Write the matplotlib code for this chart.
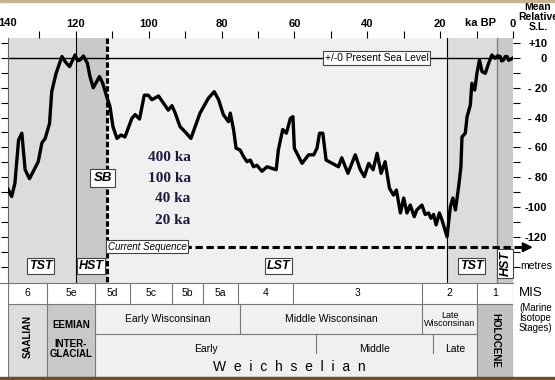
import matplotlib
matplotlib.use('Agg')
import matplotlib.pyplot as plt
from matplotlib.patches import Rectangle

plt.rcParams['font.family'] = ['Liberation Sans', 'DejaVu Sans']

# sea level curve, ka BP vs metres relative to present
age_ka = [138.6, 137.6, 136.7, 135.7, 134.8, 133.9, 132.7, 130.3, 129.3, 128.4,
          127.2, 126.6, 125.4, 123.8, 122.9, 121.7, 120.2, 119.5, 118.8, 117.9,
          116.8, 116.1, 115.2, 113.5, 112.6, 111.5, 110.6, 109.8, 108.7, 107.6,
          106.5, 104.6, 103.7, 102.5, 101.2, 100.1, 99.1, 97.3, 95.9, 94.6,
          93.6, 92.7, 91.4, 90.0, 88.4, 85.9, 83.6, 82.0, 80.8, 79.5,
          78.1, 77.6, 76.7, 76.0, 74.9, 74.0, 73.0, 72.1, 71.2, 70.3,
          68.9, 67.5, 66.2, 65.0, 64.4, 63.2, 62.2, 61.1, 60.4, 60.0,
          57.9, 56.1, 54.7, 53.8, 53.1, 52.2, 51.3, 47.9, 47.0, 45.3,
          43.3, 41.9, 40.8, 39.6, 38.4, 37.3, 36.2, 35.1, 33.9, 32.8,
          32.0, 30.9, 30.0, 29.1, 28.2, 27.1, 26.4, 25.0, 24.1, 23.2,
          22.5, 21.8, 21.1, 20.2, 19.5, 18.1, 17.2, 16.5, 15.8, 14.9,
          14.3, 14.0, 13.1, 12.6, 11.7, 11.3, 10.5, 9.9, 9.2, 8.5,
          7.6, 6.7, 5.8, 4.9, 4.2, 3.5, 3.1, 2.6, 2.1, 1.6,
          1.2, 0.5, 0.0]
sea_level = [-88, -93, -84, -55, -50.5, -75, -81, -69.6, -57, -54,
             -44, -22.6, -10.3, 1, -2.5, -5.8, 2, -1.8, -1.3, 1.3,
             -3.6, -12.5, -20, -12.5, -17, -26, -32.7, -46, -54, -51.7,
             -53, -40.5, -38, -41, -25, -25, -28, -25.5, -30.4, -35,
             -32, -37, -46, -49.5, -54, -37, -27, -22.6, -28, -38,
             -42.7, -37, -48, -60.6, -61.7, -66, -69.6, -68.5, -73, -72,
             -76, -73, -74, -75, -61.7, -48, -50.5, -40.5, -39.4, -60.6,
             -70.7, -65, -65, -60.6, -50.5, -50.5, -68.5, -73, -67, -77.4,
             -65, -75, -79.6, -70.7, -75, -64, -77.4, -69.6, -87.5, -92,
             -88.6, -104, -94, -104, -98.7, -106.5, -102, -98.7, -105, -104,
             -107.6, -105, -112, -104, -108.7, -120, -99.8, -94, -102, -86,
             -73, -53, -50.5, -39.4, -31.5, -17, -21.5, -10.3, -1.3, -9.2,
             -10.3, -3.6, 2, -0.2, 1.5, 0.9, -2, -1.3, 1, 0.9,
             -1.5, -0.7, 0]

# systems tracts
tract_edges = [138.6, 120.0, 111.5, 18.0, 4.3, 0.0]
tract_names = ['TST', 'HST', 'LST', 'TST', 'HST']
tract_colors = ['#dcdcdc', '#c8c8c8', '#f0f0f0', '#dcdcdc', '#c8c8c8']

x_ticks = [130, 120, 110, 100, 90, 80, 70, 60, 50, 40, 30, 20, 10, 0]
x_labels = ['', '120', '', '100', '', '80', '', '60', '', '40', '', '20', '', '0']
sl_ticks = [10, 0, -10, -20, -30, -40, -50, -60, -70, -80, -90, -100, -110, -120, -130, -140]
sl_labels = ['+10', '0', '', '- 20', '', '- 40', '', '- 60', '', '- 80', '', '-100', '', '-120', '', '']

cycle_labels = ['400 ka', '100 ka', '40 ka', '20 ka']

# marine isotope stages table
mis_edges = [138.6, 127.9, 114.7, 105.1, 93.5, 85.0, 75.4, 60.3, 24.9, 9.8, 0.0]
mis_labels = ['6', '5e', '5d', '5c', '5b', '5a', '4', '3', '2', '1']
wisc_edges = [114.7, 74.9, 24.9, 9.8]
wisc_labels = ['Early Wisconsinan', 'Middle Wisconsinan', 'Late\nWisconsinan']
weich_edges = [114.7, 54.0, 21.9, 9.8]
weich_labels = ['Early', 'Middle', 'Late']

W, H = 555, 380


def box(x0, y0, x1, y1):
    return [x0 / W, 1 - y1 / H, (x1 - x0) / W, (y1 - y0) / H]


fig = plt.figure(figsize=(5.55, 3.8), dpi=100)
fig.patch.set_facecolor('white')
fig.patches.append(Rectangle((0, 0), 1, 3 / H, transform=fig.transFigure,
                             color='#7a4a22', zorder=10))
fig.patches.append(Rectangle((0, 1 - 1.5 / H), 1, 1.5 / H, transform=fig.transFigure,
                             color='#c5b393', zorder=10))

ax = fig.add_axes(box(8, 38, 513, 283))
ax.set_xlim(138.6, 0)
ax.set_ylim(-151, 13.4)

for i in range(len(tract_names)):
    ax.axvspan(tract_edges[i + 1], tract_edges[i], color=tract_colors[i], lw=0, zorder=0)
ax.axvline(120, color='k', lw=0.8, zorder=1)
ax.axvline(18, color='k', lw=0.8, zorder=1)
ax.axvline(4.3, color='#777777', lw=0.9, zorder=1)
ax.axhline(0, color='k', lw=1.0, zorder=1)

ax.plot(age_ka, sea_level, color='k', lw=2.4, solid_joinstyle='round', zorder=3)

# sequence boundary and current sequence arrow
ax.plot([111.5, 111.5], [13.4, -151], color='k', lw=2.2, dashes=(1.8, 0.8), zorder=4)
ax.plot([111.5, -2.6], [-127, -127], color='k', lw=2.2, dashes=(2.4, 1.2),
        zorder=4, clip_on=False)
ax.annotate('', xy=(-6.2, -127), xytext=(-2.0, -127), annotation_clip=False,
            arrowprops=dict(arrowstyle='-|>', color='k', lw=1.5, mutation_scale=14))

bb = dict(boxstyle='square,pad=0.18', fc='white', ec='#444444', lw=0.8)
ax.text(37.4, 0, '+/-0 Present Sea Level', ha='center', va='center', fontsize=7.3,
        bbox=bb, zorder=5)
ax.text(112.6, -80.5, 'SB', ha='center', va='center', fontsize=9.5, fontweight='bold',
        style='italic', bbox=dict(boxstyle='square,pad=0.25', fc='white', ec='#444444', lw=0.8),
        zorder=5)
ax.text(111.2, -126.6, 'Current Sequence', ha='left', va='center', fontsize=7,
        style='italic', bbox=bb, zorder=5)

tract_pos = [(129.7, -139.6), (115.8, -139.6), (64.4, -139.6), (11.4, -139.6), (2.1, -138)]
for (tx, ty), name in zip(tract_pos, tract_names):
    rot = 90 if (tx < 4) else 0
    ax.text(tx, ty, name, ha='center', va='center', fontsize=9, fontweight='bold',
            style='italic', rotation=rot, zorder=4,
            bbox=dict(boxstyle='square,pad=0.15', fc='white', ec='#444444', lw=0.8))

for lab, yy in zip(cycle_labels, [-67, -81, -94.6, -109]):
    ax.text(88.5, yy, lab, ha='right', va='center', fontsize=11, fontweight='bold',
            family='Liberation Serif', color='#1c1c3c', zorder=5)

# axes, ticks
for s in ['top', 'bottom', 'right']:
    ax.spines[s].set_visible(False)
ax.spines['left'].set_color('#666666')
ax.spines['left'].set_linewidth(0.8)

ax.xaxis.tick_top()
ax.set_xticks(x_ticks)
ax.set_xticklabels(x_labels, fontsize=8, fontweight='bold')
ax.tick_params(axis='x', direction='out', length=5, width=0.8, pad=1.5)
ax.text(138.6, 1.04, '140', transform=ax.get_xaxis_transform(), ha='center', va='bottom',
        fontsize=8, fontweight='bold')
ax.text(0.935, 1.04, 'ka BP', transform=ax.transAxes, ha='center', va='bottom',
        fontsize=8, fontweight='bold')

ax.set_yticks(sl_ticks)
ax.set_yticklabels(sl_labels, fontsize=8, fontweight='bold')
ax.tick_params(axis='y', direction='out', length=5, width=0.8, left=True, right=True,
               labelleft=False, labelright=True, pad=19.5)
for t in ax.get_yticklabels():
    t.set_horizontalalignment('right')

fig.text(538 / W, 1 - 2.5 / H, 'Mean\nRelative\nS.L.', ha='center', va='top', fontsize=7.5,
         fontweight='bold', linespacing=0.95)
fig.text(520 / W, 1 - 266 / H, 'metres', ha='left', va='center', fontsize=7.5)

# table of stages
ax2 = fig.add_axes(box(8, 283, 513, 377))
ax2.set_xlim(138.6, 0)
ax2.set_ylim(94, 0)
ax2.axis('off')

gl = dict(color='#777777', lw=0.8)
ax2.add_patch(Rectangle((0, 21), 138.6, 73, fc='#f0f0f0', ec='none', zorder=0))
ax2.add_patch(Rectangle((114.7, 21), 39.8, 30, fc='#f7f7f7', ec='none', zorder=0))
ax2.add_patch(Rectangle((127.9, 21), 10.7, 73, fc='#dcdcdc', ec='none', zorder=0))
ax2.add_patch(Rectangle((114.7, 21), 13.2, 73, fc='#c8c8c8', ec='none', zorder=0))
ax2.add_patch(Rectangle((0, 21), 9.8, 73, fc='#c2c2c2', ec='none', zorder=0))

ax2.plot([140.8, 0], [0, 0], clip_on=False, **gl)
ax2.plot([138.6, 0], [21, 21], **gl)
ax2.plot([114.7, 9.8], [51, 51], **gl)
ax2.plot([138.6, 0], [93.6, 93.6], **gl)
for e in mis_edges:
    ax2.plot([e, e], [0, 21], **gl)
for e in [138.6, 127.9, 114.7, 9.8, 0.0]:
    ax2.plot([e, e], [21, 94], **gl)
for e in wisc_edges[1:-1]:
    ax2.plot([e, e], [21, 51], **gl)
for e in weich_edges[1:-1]:
    ax2.plot([e, e], [51, 70], **gl)

for i, lab in enumerate(mis_labels):
    ax2.text((mis_edges[i] + mis_edges[i + 1]) / 2, 10.5, lab, ha='center', va='center',
             fontsize=7.5)
for i, lab in enumerate(wisc_labels):
    ax2.text((wisc_edges[i] + wisc_edges[i + 1]) / 2, 36.5, lab, ha='center', va='center',
             fontsize=6.5 if '\n' in lab else 7.5, linespacing=0.9)
for i, lab in enumerate(weich_labels):
    ax2.text((weich_edges[i] + weich_edges[i + 1]) / 2, 65.5, lab, ha='center', va='center',
             fontsize=7.5)
ax2.text(61.4, 84, 'W  e  i  c  h  s  e  l  i  a  n', ha='center', va='center', fontsize=10)
ax2.text(133.25, 53, 'SAALIAN', ha='center', va='center', rotation=90, fontsize=7,
         fontweight='bold')
ax2.text(121.3, 42, 'EEMIAN', ha='center', va='center', fontsize=7, fontweight='bold')
ax2.text(121.3, 66, 'INTER-\nGLACIAL', ha='center', va='center', fontsize=7,
         fontweight='bold', linespacing=0.95)
ax2.text(4.9, 57, 'HOLOCENE', ha='center', va='center', rotation=270, fontsize=7,
         fontweight='bold')

fig.text(519 / W, 1 - 293 / H, 'MIS', ha='left', va='center', fontsize=9.5)
fig.text(519 / W, 1 - 318 / H, '(Marine\nIsotope\nStages)', ha='left', va='center',
         fontsize=7, linespacing=0.95)

fig.savefig('out.png', dpi=100)
